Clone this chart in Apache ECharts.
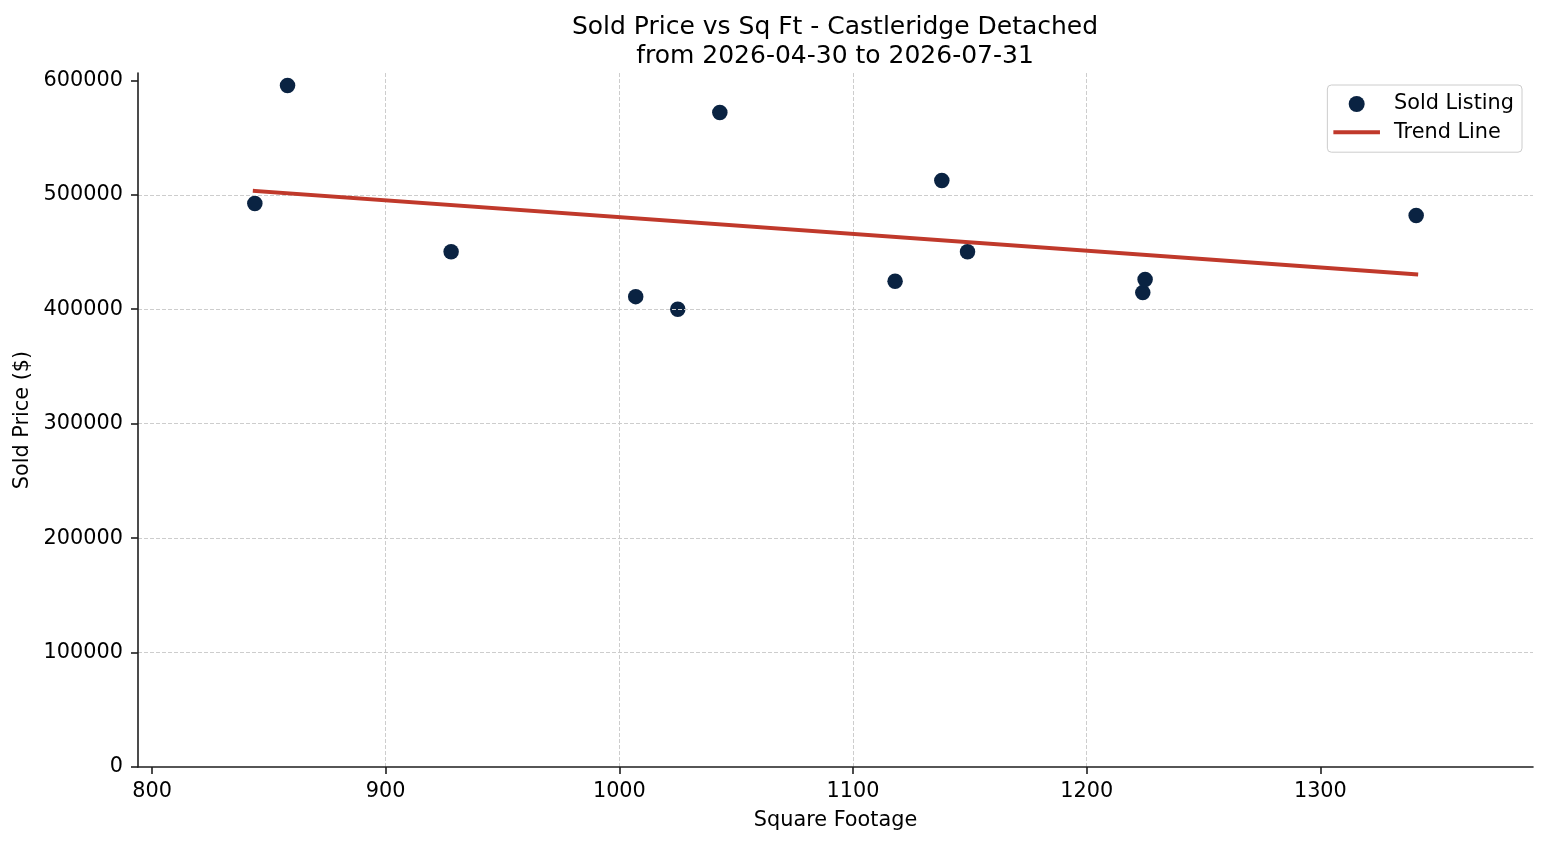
<!DOCTYPE html>
<html>
<head>
<meta charset="utf-8">
<script src="https://cdn.jsdelivr.net/npm/echarts@6/dist/echarts.min.js"></script>
<style>
html,body{margin:0;padding:0;background:#fff;}
#chart{width:1547px;height:845px;}
</style>
</head>
<body>
<div id="chart"></div>
<script>
// Data
const sqft  = [844, 858, 928, 1007, 1025, 1043, 1118, 1138, 1149, 1224, 1225, 1341];
const price = [492300, 595400, 450300, 411000, 400000, 571800, 424400, 512400, 450300, 414500, 426000, 481800];
const trendSqft  = [844, 1341];
const trendPrice = [503300, 430500];
const xTicks = [800, 900, 1000, 1100, 1200, 1300];
const yTicks = [0, 100000, 200000, 300000, 400000, 500000, 600000];
const titleText = 'Sold Price vs Sq Ft - Castleridge Detached\nfrom 2026-04-30 to 2026-07-31';

const FONT = 'DejaVu Sans';
const scatterData = sqft.map((v, i) => [v, price[i]]);
const trendData = trendSqft.map((v, i) => [v, trendPrice[i]]);

const chart = echarts.init(document.getElementById('chart'), null, {renderer: 'canvas'});
const axisCommon = {
  axisLine: {show: true, lineStyle: {color: '#1f1f1f', width: 1.6}},
  axisTick: {show: true, inside: false, length: 7, lineStyle: {color: '#1f1f1f', width: 1.6}},
  splitLine: {show: true, showMinLine: false, showMaxLine: false, lineStyle: {color: '#cdcdcd', width: 1, type: [4, 2]}},
  nameTextStyle: {fontFamily: FONT, fontSize: 20.8, color: '#000'}
};
const plain = v => String(v);
chart.setOption({
  animation: false,
  backgroundColor: '#fff',
  title: {
    text: titleText,
    left: 830, top: 8, textAlign: 'center',
    textStyle: {fontFamily: FONT, fontSize: 25, fontWeight: 'normal', color: '#000', lineHeight: 29}
  },
  grid: {left: 138, right: 14, top: 73, bottom: 78, containLabel: false, outerBoundsMode: 'none'},
  legend: {
    orient: 'vertical', right: 25, top: 85,
    padding: [8.5, 8, 9.5, 6],
    itemWidth: 46.6, itemHeight: 16, itemGap: 7.2,
    symbolKeepAspect: true,
    borderColor: '#cccccc', borderWidth: 1, borderRadius: 4,
    backgroundColor: 'rgba(255,255,255,0.8)',
    textStyle: {fontFamily: FONT, fontSize: 20.8, color: '#000', padding: [0, 0, 0, 9]},
    data: [
      {name: 'Sold Listing', icon: 'circle'},
      {name: 'Trend Line', icon: 'path://M0,0H233V20H0Z'}
    ]
  },
  xAxis: Object.assign({}, axisCommon, {
    type: 'value', min: 794, max: 1391, z: 2,
    name: 'Square Footage', nameLocation: 'middle', nameGap: 43,
    axisTick: Object.assign({}, axisCommon.axisTick, {customValues: xTicks}),
    axisLabel: {customValues: xTicks, formatter: plain, margin: 14, fontFamily: FONT, fontSize: 20.8, color: '#000'}
  }),
  yAxis: Object.assign({}, axisCommon, {
    type: 'value', min: 0, max: 606400, z: 2,
    name: 'Sold Price ($)', nameLocation: 'middle', nameGap: 102,
    axisTick: Object.assign({}, axisCommon.axisTick, {customValues: yTicks}),
    axisLabel: {customValues: yTicks, formatter: plain, margin: 15, fontFamily: FONT, fontSize: 20.8, color: '#000'}
  }),
  series: [
    {
      name: 'Sold Listing', type: 'scatter', z: 1,
      symbol: 'circle', symbolSize: 15.5,
      itemStyle: {color: '#0a2342', opacity: 1},
      data: scatterData
    },
    {
      name: 'Trend Line', type: 'line', z: 3,
      symbol: 'none', showSymbol: false,
      lineStyle: {color: '#c0392b', width: 4, cap: 'square'},
      itemStyle: {color: '#c0392b'},
      data: trendData
    }
  ]
});
</script>
</body>
</html>
